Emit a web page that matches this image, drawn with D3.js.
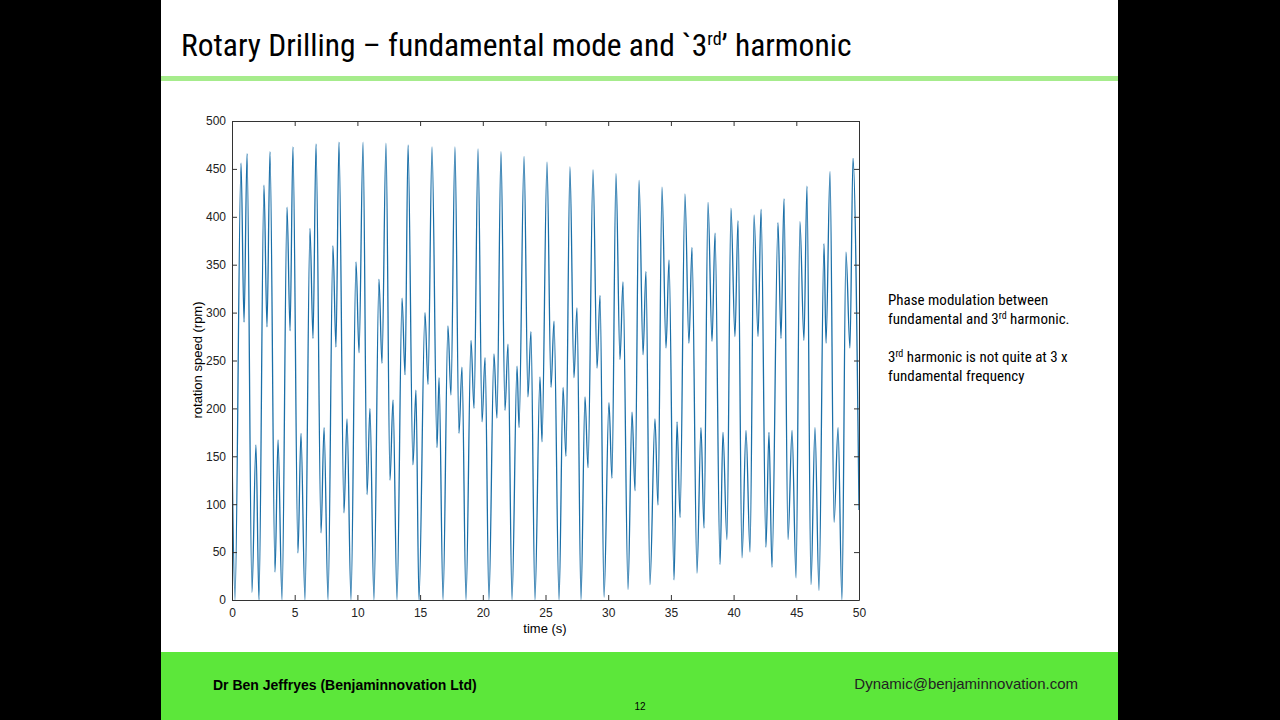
<!DOCTYPE html>
<html><head><meta charset="utf-8">
<script src="https://cdn.jsdelivr.net/npm/d3@7"></script>
<style>body{margin:0;background:#000;}svg{display:block;}</style>
</head><body>
<svg id="c" width="1280" height="720"></svg>
<script>
const timeS = [0,0.24,0.72,0.96,1.20,1.59,1.91,2.15,2.55,2.79,3.03,3.43,3.67,3.99,4.39,4.63,4.86,5.26,5.50,5.82,6.22,6.46,6.70,7.10,7.34,7.66,8.05,8.29,8.53,8.93,9.17,9.49,9.89,10.13,10.45,10.77,11.00,11.32,11.72,11.96,12.28,12.60,12.84,13.16,13.56,13.80,14.04,14.43,14.67,14.91,15.39,15.63,15.95,16.35,16.51,16.83,17.22,17.46,17.78,18.10,18.34,18.66,19.06,19.30,19.62,19.94,20.18,20.49,20.89,21.13,21.45,21.77,22.01,22.33,22.73,22.89,23.29,23.60,23.84,24.16,24.56,24.72,25.12,25.44,25.68,26.08,26.40,26.63,26.95,27.27,27.51,27.83,28.15,28.39,28.79,29.11,29.35,29.67,30.06,30.30,30.62,30.94,31.18,31.58,31.90,32.14,32.46,32.78,33.01,33.33,33.73,33.97,34.29,34.61,34.85,35.25,35.49,35.73,36.12,36.44,36.68,37.08,37.40,37.64,37.96,38.28,38.52,38.92,39.15,39.47,39.79,40.11,40.35,40.67,40.99,41.31,41.63,41.95,42.19,42.58,42.82,43.06,43.54,43.78,44.02,44.34,44.66,44.98,45.29,45.61,45.85,46.17,46.49,46.81,47.21,47.37,47.69,48.01,48.33,48.64,48.96,49.28,49.52,50.00];
const speedRpm = [160,0,456,290,466,8,162,0,433,285,468,29,167,0,410,281,473,49,174,0,388,273,476,70,180,0,370,264,478,91,189,0,353,258,478,110,200,0,335,247,477,125,209,0,315,235,475,141,219,0,300,225,473,159,232,0,286,214,473,174,243,0,271,200,471,186,253,0,257,190,468,198,267,0,244,180,463,212,280,0,233,165,457,222,291,0,222,150,452,232,305,0,212,138,449,242,318,3,206,127,445,251,332,11,196,114,438,256,343,16,189,99,431,263,355,21,186,86,424,268,368,28,180,75,415,270,383,37,175,63,409,275,396,44,177,50,402,275,408,55,175,34,394,273,419,63,177,23,395,271,432,16,180,10,372,268,447,81,180,0,363,263,461,94];
const xTicks = [0,5,10,15,20,25,30,35,40,45,50];
const yTicks = [0,50,100,150,200,250,300,350,400,450,500];
const titleMain = "Rotary Drilling – fundamental mode and `3";
const noteLines = ["Phase modulation between", "fundamental and 3|rd| harmonic.", "", "3|rd| harmonic is not quite at 3 x", "fundamental frequency"];

const svg = d3.select("#c");
const F = "'Liberation Sans Narrow','Roboto Condensed',Arial,sans-serif";
svg.append("rect").attr("x",161).attr("y",0).attr("width",957).attr("height",720).attr("fill","#fff");
svg.append("rect").attr("x",161).attr("y",76).attr("width",957).attr("height",5).attr("fill","#a6ec8c");
svg.append("rect").attr("x",161).attr("y",652).attr("width",957).attr("height",68).attr("fill","#5ce73a");

const t = svg.append("text").attr("x",181).attr("y",56).attr("font-family",F).attr("font-size",31.5).attr("fill","#000");
t.append("tspan").text(titleMain);
t.append("tspan").attr("dy",-11).attr("font-size",18).text("rd");
t.append("tspan").attr("dy",11).text("’  harmonic");

svg.append("text").attr("x",213).attr("y",690).attr("font-family","Arial,sans-serif").attr("font-weight","bold").attr("font-size",14).text("Dr Ben Jeffryes (Benjaminnovation Ltd)");
svg.append("text").attr("x",1078).attr("y",689).attr("text-anchor","end").attr("font-family","Arial,sans-serif").attr("font-size",15).attr("fill","#222").text("Dynamic@benjaminnovation.com");
svg.append("text").attr("x",640).attr("y",710).attr("text-anchor","middle").attr("font-family","Arial,sans-serif").attr("font-size",10).text("12");

noteLines.forEach((l,i)=>{
  if(!l) return;
  const tx = svg.append("text").attr("x",888).attr("y",305+i*19).attr("font-family",F).attr("font-size",15);
  l.split("|").forEach((p,j)=>{
    if(j%2===1){ tx.append("tspan").attr("dy",-5).attr("font-size",10).text(p); }
    else { tx.append("tspan").attr("dy", j>0?5:0).text(p); }
  });
});

const x = d3.scaleLinear().domain([0,50]).range([232,859]);
const y = d3.scaleLinear().domain([0,500]).range([600,121]);
const g = svg.append("g");
g.append("defs").append("clipPath").attr("id","cp").append("rect").attr("x",232).attr("y",121).attr("width",627).attr("height",479);
const data = timeS.map((d,i)=>[d,speedRpm[i]]);
g.append("path").datum(data).attr("clip-path","url(#cp)")
 .attr("d", d3.line().x(d=>x(d[0])).y(d=>y(d[1])).curve(d3.curveMonotoneX))
 .attr("fill","none").attr("stroke","#1a6fa8").attr("stroke-width",1.3);

const ax = (sel)=>{sel.selectAll("path").attr("stroke","#333");sel.selectAll("line").attr("stroke","#333");sel.selectAll("text").attr("font-family","Arial,sans-serif").attr("font-size",12).attr("fill","#222");};
g.append("g").attr("transform","translate(0,600)").call(d3.axisBottom(x).tickValues(xTicks).tickSize(-5).tickSizeOuter(0).tickPadding(8)).call(ax);
g.append("g").attr("transform","translate(0,121)").call(d3.axisTop(x).tickValues(xTicks).tickSize(-5).tickSizeOuter(0).tickFormat("")).call(ax);
g.append("g").attr("transform","translate(232,0)").call(d3.axisLeft(y).tickValues(yTicks).tickSize(-5).tickSizeOuter(0).tickPadding(6)).call(ax);
g.append("g").attr("transform","translate(859,0)").call(d3.axisRight(y).tickValues(yTicks).tickSize(-5).tickSizeOuter(0).tickFormat("")).call(ax);
g.append("text").attr("x",545).attr("y",633).attr("text-anchor","middle").attr("font-family","Arial,sans-serif").attr("font-size",13).text("time (s)");
g.append("text").attr("transform","translate(202,360) rotate(-90)").attr("text-anchor","middle").attr("font-family","Arial,sans-serif").attr("font-size",13).text("rotation speed (rpm)");
</script></body></html>
